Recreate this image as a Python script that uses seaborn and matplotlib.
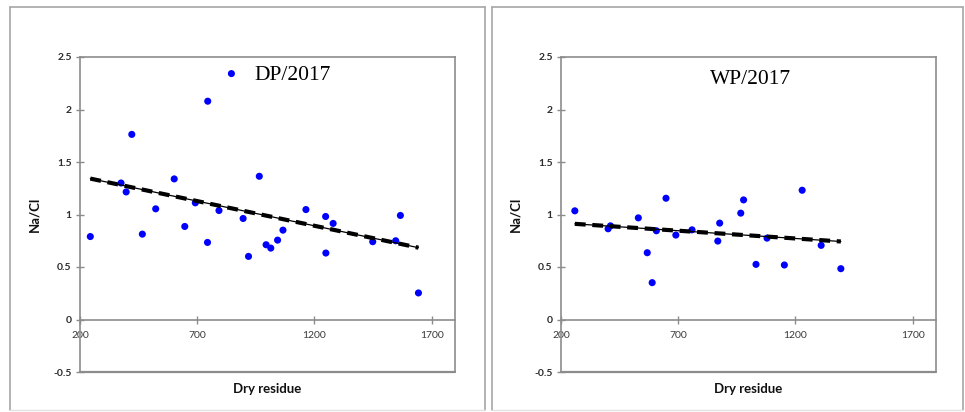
import matplotlib
matplotlib.use("Agg")
import matplotlib.pyplot as plt
from matplotlib.lines import Line2D
import seaborn as sns
import pandas as pd

# ---- data ----
dp_residue = [244, 375, 397, 421, 466, 523, 602, 647, 692, 745, 744, 793, 846, 896,
              919, 965, 994, 1014, 1043, 1066, 1164, 1248, 1249, 1280, 1449, 1547, 1567, 1644]
dp_ratio = [0.79, 1.30, 1.215, 1.763, 0.813, 1.054, 1.339, 0.886, 1.111, 2.079, 0.734, 1.038,
            2.342, 0.962, 0.601, 1.364, 0.712, 0.680, 0.756, 0.851, 1.047, 0.981, 0.633,
            0.915, 0.741, 0.75, 0.991, 0.253]
dp_trend_x = [244, 1644]
dp_trend_y = [1.342, 0.684]

wp_residue = [259, 401, 411, 530, 568, 589, 607, 648, 690, 759, 869, 877, 967, 979,
              1032, 1079, 1153, 1229, 1310, 1394]
wp_ratio = [1.035, 0.864, 0.892, 0.968, 0.636, 0.351, 0.845, 1.155, 0.804, 0.854, 0.747,
            0.918, 1.013, 1.139, 0.525, 0.775, 0.519, 1.231, 0.706, 0.484]
wp_trend_x = [259, 1394]
wp_trend_y = [0.911, 0.743]

titles = ["DP/2017", "WP/2017"]
title_pos = [(1106, 2.32), (1010, 2.29)]
x_ticks = [200, 700, 1200, 1700]
x_tick_labels = ["200", "700", "1200", "1700"]
y_ticks = [-0.5, 0, 0.5, 1, 1.5, 2, 2.5]
y_tick_labels = ["-0.5", "0", "0.5", "1", "1.5", "2", "2.5"]
x_label = "Dry residue"
y_label = "Na/Cl"

sns.set_theme(style="white")
plt.rcParams["font.family"] = ["Lato", "DejaVu Sans"]

W, H = 965, 412
fig = plt.figure(figsize=(W / 100, H / 100), dpi=100)
fig.patch.set_facecolor("white")

frame_col = "#a6a6a6"


def fline(x0, y0, x1, y1, col=frame_col, lw=1.2):
    fig.add_artist(Line2D([x0 / W, x1 / W], [1 - y0 / H, 1 - y1 / H],
                          transform=fig.transFigure, color=col, linewidth=lw))


# outer chart frames
for x0, x1 in [(10, 485), (492, 963)]:
    fline(x0, 7, x1, 7)
    fline(x0, 7, x0, 410)
    fline(x1, 7, x1, 410)
    fline(x0, 409.5, x1, 409.5, col="#e2e2e2", lw=1.0)

axes_left_px = [80, 561]
ax_w_px = 375
ax_top_px, ax_bot_px = 57, 372

panels = [
    (dp_residue, dp_ratio, dp_trend_x, dp_trend_y),
    (wp_residue, wp_ratio, wp_trend_x, wp_trend_y),
]

axis_col = "#8c8c8c"
for i, (xs, ys, tx, ty) in enumerate(panels):
    ax = fig.add_axes([axes_left_px[i] / W, 1 - ax_bot_px / H,
                       ax_w_px / W, (ax_bot_px - ax_top_px) / H])
    df = pd.DataFrame({"x": xs, "y": ys})
    sns.scatterplot(data=df, x="x", y="y", ax=ax, color="#0000ff", s=26,
                    edgecolor="none", zorder=3)
    tdf = pd.DataFrame({"x": tx, "y": ty})
    sns.lineplot(data=tdf, x="x", y="y", ax=ax, color="black", linewidth=0.9, zorder=4)
    ax.plot(tx, ty, color="black", linewidth=3.0, linestyle=(0, (2.6, 1.6)),
            zorder=4, solid_capstyle="butt", dash_capstyle="butt")

    ax.set_xlim(200, 1800)
    ax.set_ylim(-0.5, 2.5)
    ax.set_xticks(x_ticks)
    ax.set_xticklabels(x_tick_labels)
    ax.set_yticks(y_ticks)
    ax.set_yticklabels(y_tick_labels)

    for s in ax.spines.values():
        s.set_color(axis_col)
        s.set_linewidth(1.2)
        s.set_visible(True)
    ax.spines["bottom"].set_position(("data", 0))
    ax.axhline(-0.5, color=axis_col, linewidth=1.6, clip_on=False, zorder=5)

    ax.tick_params(axis="both", which="both", direction="inout", length=6,
                   width=1.0, color=axis_col, labelsize=7.5,
                   bottom=True, left=True, pad=2)
    ax.tick_params(axis="x", labelcolor="#3a3a3a", pad=5)
    ax.tick_params(axis="y", labelcolor="#2b2b2b", pad=3)
    for lab in ax.get_yticklabels():
        lab.set_fontweight("bold")

    ax.set_xlabel(x_label, fontsize=9.5, fontweight="bold", color="#111111", labelpad=0)
    ax.set_ylabel(y_label, fontsize=9.5, fontweight="bold", color="#111111", labelpad=6)
    ax.xaxis.set_label_coords(0.5, -0.035)
    ax.yaxis.set_label_coords(-0.105, 0.5)

    ax.text(title_pos[i][0], title_pos[i][1], titles[i], ha="center", va="center",
            fontsize=15.5, family=["Liberation Serif", "DejaVu Serif"], color="black")
    ax.grid(False)
    ax.set_facecolor("white")

fig.savefig("out.png", dpi=100, facecolor="white")
